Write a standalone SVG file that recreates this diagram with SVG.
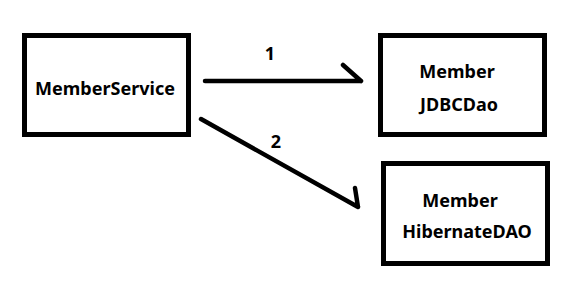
<svg xmlns="http://www.w3.org/2000/svg" width="563" height="286" viewBox="0 0 563 286">
<style>
.box{fill:#fff;stroke:#000;stroke-width:5}
.t{font-family:"Noto Sans","Open Sans",sans-serif;font-weight:bold;font-size:18px;fill:#000;text-anchor:middle}
.c{fill:none;stroke:#000;stroke-width:4.5;stroke-linecap:round;stroke-linejoin:round}
</style>
<rect width="563" height="286" fill="#fff"/>
<g id="memberService">
<rect class="box" x="24.5" y="35.5" width="164" height="99"/>
<text class="t" x="105" y="95">MemberService</text>
</g>
<g id="memberJdbcDao">
<rect class="box" x="380.5" y="35.5" width="164" height="99"/>
<text class="t" x="457" y="78">Member</text>
<text class="t" x="459" y="111">JDBCDao</text>
</g>
<g id="memberHibernateDao">
<rect class="box" x="383.5" y="163.5" width="164" height="100"/>
<text class="t" x="460" y="207">Member</text>
<text class="t" x="467" y="238">HibernateDAO</text>
</g>
<g id="connectors">
<path class="c" d="M205 81 H361 M343 65 L361 81"/>
<path class="c" d="M201 119 L358 207 M355 188 L358 207"/>
<text class="t" x="270" y="60">1</text>
<text class="t" x="276" y="148">2</text>
</g>
</svg>
